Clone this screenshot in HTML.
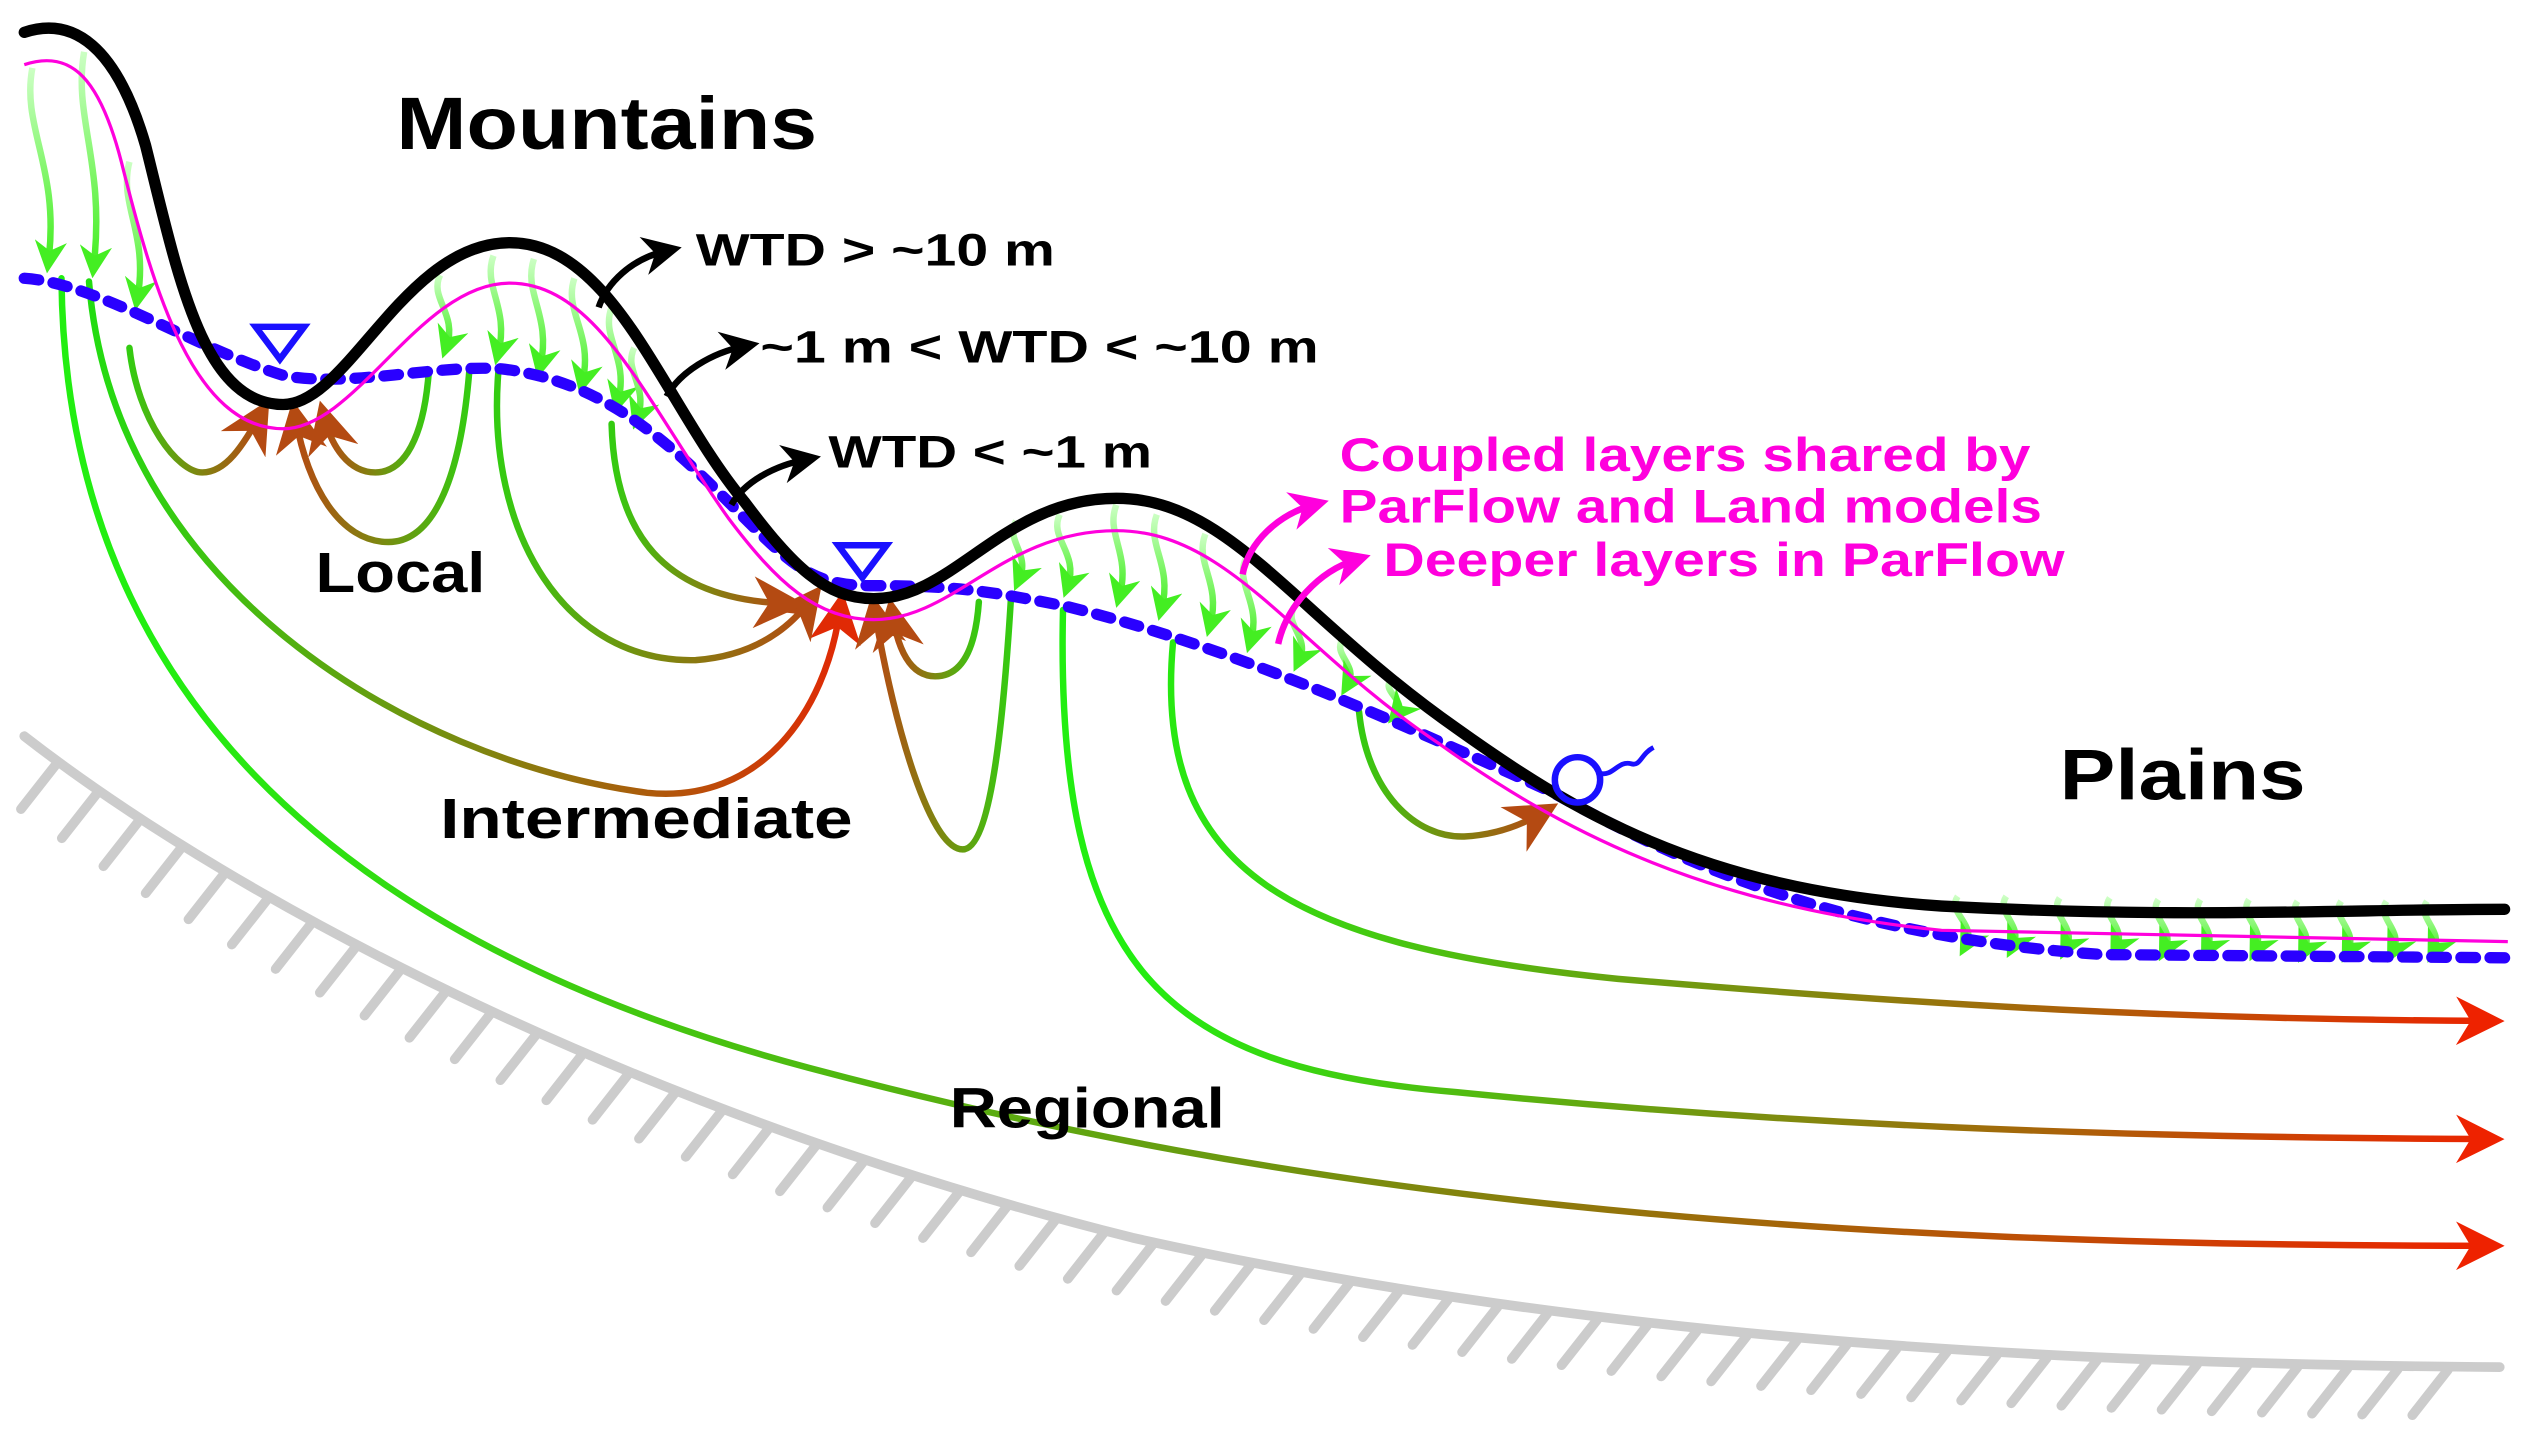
<!DOCTYPE html>
<html><head><meta charset="utf-8"><style>
html,body{margin:0;padding:0;background:#fff;}
svg{display:block;}
text{font-family:"Liberation Sans",Arial,sans-serif;font-weight:bold;}
</style></head><body>
<svg id="s" width="2524" height="1439" viewBox="0 0 1560 889.4" preserveAspectRatio="none" xmlns="http://www.w3.org/2000/svg">
<defs>
<marker id="mRed" viewBox="0 0 10 10" refX="6" refY="5" markerWidth="7.5" markerHeight="7.5" orient="auto" markerUnits="strokeWidth"><path d="M0,0 L10,5 L0,10 L3,5z" fill="#ee2200"/></marker>
<marker id="mBr" viewBox="0 0 10 10" refX="6" refY="5" markerWidth="8" markerHeight="8" orient="auto" markerUnits="strokeWidth"><path d="M0,0 L10,5 L0,10 L3,5z" fill="#b44a12"/></marker>
<marker id="mRd2" viewBox="0 0 10 10" refX="6" refY="5" markerWidth="8" markerHeight="8" orient="auto" markerUnits="strokeWidth"><path d="M0,0 L10,5 L0,10 L3,5z" fill="#e02a05"/></marker>
<marker id="mBk" viewBox="0 0 10 10" refX="6" refY="5" markerWidth="6" markerHeight="6" orient="auto" markerUnits="strokeWidth"><path d="M0,0 L10,5 L0,10 L3,5z" fill="#000"/></marker>
<marker id="mMg" viewBox="0 0 10 10" refX="6" refY="5" markerWidth="6" markerHeight="6" orient="auto" markerUnits="strokeWidth"><path d="M0,0 L10,5 L0,10 L3,5z" fill="#ff00dd"/></marker>
<marker id="mGr" viewBox="0 0 10 10" refX="6" refY="5" markerWidth="5" markerHeight="5" orient="auto" markerUnits="strokeWidth"><path d="M0,0 L10,5 L0,10 L3,5z" fill="#44ee22"/></marker>
<linearGradient id="gReg" gradientUnits="userSpaceOnUse" x1="100" y1="0" x2="1548" y2="0"><stop offset="0" stop-color="#22ee11"/><stop offset="0.45" stop-color="#6a9a10"/><stop offset="1" stop-color="#ee2200"/></linearGradient>
<linearGradient id="gReg2" gradientUnits="userSpaceOnUse" x1="700" y1="0" x2="1548" y2="0"><stop offset="0" stop-color="#22ee11"/><stop offset="0.45" stop-color="#7a9010"/><stop offset="1" stop-color="#ee2200"/></linearGradient>
<linearGradient id="gLR" x1="0" y1="0" x2="1" y2="0"><stop offset="0" stop-color="#22dd11"/><stop offset="0.5" stop-color="#7a8a10"/><stop offset="1" stop-color="#e02a05"/></linearGradient>
<linearGradient id="gRL" x1="1" y1="0" x2="0" y2="0"><stop offset="0" stop-color="#33cc11"/><stop offset="0.5" stop-color="#7a8a10"/><stop offset="1" stop-color="#b44a12"/></linearGradient>
<linearGradient id="gLRb" x1="0" y1="0" x2="1" y2="0"><stop offset="0" stop-color="#33cc11"/><stop offset="0.5" stop-color="#7a8a10"/><stop offset="1" stop-color="#b44a12"/></linearGradient>
<linearGradient id="gInf" x1="0" y1="0" x2="0" y2="1"><stop offset="0" stop-color="#ccffc4"/><stop offset="1" stop-color="#44ee22"/></linearGradient>
</defs>

<g id="hatch" stroke="#cccccc" stroke-width="6" stroke-linecap="round" fill="none">
<path id="ground" d="M15,455 C150,560 400,690 700,765 C1000,832 1300,843 1545,845"/>
</g>

<g fill="none" stroke-width="4" stroke-linecap="round">
<path d="M38,172 C40,420 200,580 500,660 C800,740 1100,770 1536,770" stroke="url(#gReg)" marker-end="url(#mRed)"/>
<path d="M657,377 C652,600 720,660 900,675 C1100,695 1300,703 1536,704" stroke="url(#gReg2)" marker-end="url(#mRed)"/>
<path d="M725,397 C712,540 800,585 1000,605 C1200,622 1350,630 1536,631" stroke="url(#gReg2)" marker-end="url(#mRed)"/>
<path d="M55,174 C70,360 250,470 400,490 C470,497 510,440 519,378" stroke="url(#gLR)" marker-end="url(#mRd2)"/>
<path d="M308,230 C300,330 350,410 430,408 C470,405 490,385 500,372" stroke="url(#gLRb)" marker-end="url(#mBr)"/>
<path d="M378,262 C380,330 410,370 485,373" stroke="url(#gLRb)" marker-end="url(#mBr)"/>
<path d="M625,367 C620,450 612,525 595,525 C575,525 553,450 541,380" stroke="url(#gRL)" marker-end="url(#mBr)"/>
<path d="M605,372 C603,400 595,418 578,418 C562,418 555,400 552,382" stroke="url(#gRL)" marker-end="url(#mBr)"/>
<path d="M80,215 C85,260 110,292 125,292 C140,292 150,275 160,258" stroke="url(#gLRb)" marker-end="url(#mBr)"/>
<path d="M265,230 C262,270 250,292 232,292 C215,292 205,275 201,260" stroke="url(#gRL)" marker-end="url(#mBr)"/>
<path d="M290,230 C285,290 270,335 240,335 C210,335 190,300 183,260" stroke="url(#gRL)" marker-end="url(#mBr)"/>
<path d="M840,440 C845,490 875,518 905,517 C925,516 940,510 952,503" stroke="url(#gLRb)" marker-end="url(#mBr)"/>
</g>

<g id="inf"></g>

<path d="M15,172 C60,175 120,215 175,232 C215,240 270,225 310,228 C370,235 410,270 450,310 C490,350 500,362 540,362 C590,362 610,365 660,375 C760,400 850,440 960,490 C1050,540 1150,580 1300,590 L1548,592" fill="none" stroke="#2a00ff" stroke-width="7" stroke-dasharray="9 9" stroke-linecap="round"/>
<path d="M15,40 C45,30 62,50 75,100 C95,180 120,265 175,265 C220,265 260,175 315,175 C370,175 400,250 450,320 C480,360 505,383 540,383 C590,383 620,328 690,328 C760,328 800,400 890,460 C960,510 1050,560 1200,575 L1550,582" fill="none" stroke="#ff00dd" stroke-width="2"/>
<path d="M15,20 C45,10 72,28 90,90 C110,170 125,250 175,250 C215,250 250,150 315,150 C380,150 410,250 460,310 C490,350 510,370 540,370 C590,370 620,308 690,308 C760,308 800,380 900,450 C970,500 1050,550 1200,560 C1350,568 1450,562 1548,562" fill="none" stroke="#000" stroke-width="7" stroke-linecap="round"/>

<path d="M158,202 L188,202 L173,222z" fill="none" stroke="#1a10ff" stroke-width="4"/>
<path d="M518,337 L548,337 L533,357z" fill="none" stroke="#1a10ff" stroke-width="4"/>
<circle cx="975" cy="482" r="14" fill="none" stroke="#1a10ff" stroke-width="4"/>
<path d="M989,478 C997,480 1000,470 1008,472 C1014,474 1014,466 1022,462" fill="none" stroke="#1a10ff" stroke-width="3"/>

<g fill="none" stroke="#000" stroke-width="4">
<path d="M370,190 C375,175 390,160 412,155" marker-end="url(#mBk)"/>
<path d="M412,245 C420,230 440,218 460,214" marker-end="url(#mBk)"/>
<path d="M452,312 C460,298 478,288 498,284" marker-end="url(#mBk)"/>
</g>
<g fill="none" stroke="#ff00dd" stroke-width="4">
<path d="M768,355 C772,335 790,318 812,312" marker-end="url(#mMg)"/>
<path d="M790,398 C795,375 815,353 838,346" marker-end="url(#mMg)"/>
</g>

<text x="245" y="92" font-size="46" textLength="260" lengthAdjust="spacingAndGlyphs">Mountains</text>
<text x="1273" y="494" font-size="44" textLength="152" lengthAdjust="spacingAndGlyphs">Plains</text>
<text x="195" y="366" font-size="35" textLength="105" lengthAdjust="spacingAndGlyphs">Local</text>
<text x="272" y="518" font-size="35" textLength="255" lengthAdjust="spacingAndGlyphs">Intermediate</text>
<text x="587" y="697" font-size="35" textLength="170" lengthAdjust="spacingAndGlyphs">Regional</text>
<text x="430" y="164" font-size="28" textLength="222" lengthAdjust="spacingAndGlyphs">WTD &gt; ~10 m</text>
<text x="470" y="224" font-size="28" textLength="345" lengthAdjust="spacingAndGlyphs">~1 m &lt; WTD &lt; ~10 m</text>
<text x="512" y="289" font-size="28" textLength="200" lengthAdjust="spacingAndGlyphs">WTD &lt; ~1 m</text>
<g fill="#ff00dd" font-size="29">
<text x="828" y="291" textLength="427" lengthAdjust="spacingAndGlyphs">Coupled layers shared by</text>
<text x="828" y="323" textLength="434" lengthAdjust="spacingAndGlyphs">ParFlow and Land models</text>
<text x="855" y="356" textLength="421" lengthAdjust="spacingAndGlyphs">Deeper layers in ParFlow</text>
</g>
</svg>
<script>
(function(){
var NS="http://www.w3.org/2000/svg";
var g=document.getElementById("ground"),hg=document.getElementById("hatch");
var L=g.getTotalLength();
for(var d=25;d<L-5;d+=31){
 var p=g.getPointAtLength(d);
 var l=document.createElementNS(NS,"line");
 l.setAttribute("x1",p.x);l.setAttribute("y1",p.y+2);
 l.setAttribute("x2",p.x-22);l.setAttribute("y2",p.y+30);
 hg.appendChild(l);
}
var inf=document.getElementById("inf");
var A=[[20,42,30,165],[52,32,58,168],[80,100,85,188],
[272,170,276,218],[305,158,308,222],[330,160,334,230],[355,172,360,240],[378,190,382,252],[392,215,394,262],
[628,322,630,362],[655,318,660,366],[690,312,692,372],[715,318,718,380],[745,330,748,390],[770,345,773,400],
[800,375,803,412],[830,395,833,427],[860,420,863,445],
[1210,554,1215,588],[1240,554,1244,589],[1273,555,1277,590],[1304,555,1308,590],[1334,556,1338,591],[1360,556,1364,591],[1390,556,1394,591],[1420,557,1424,592],[1447,557,1451,592],[1475,557,1479,592],[1500,557,1504,592]];
A.forEach(function(a){
 var x0=a[0],y0=a[1],x1=a[2],y1=a[3],h=y1-y0,dx=x1-x0;
 var p=document.createElementNS(NS,"path");
 p.setAttribute("d","M"+x0+","+y0+" C"+(x0-7)+","+(y0+h*0.3)+" "+(x0+dx+7)+","+(y0+h*0.5)+" "+x1+","+(y1-4));
 p.setAttribute("fill","none");p.setAttribute("stroke","url(#gInf)");
 p.setAttribute("stroke-width","4");p.setAttribute("marker-end","url(#mGr)");
 inf.appendChild(p);
});
})();
</script>
</body></html>
